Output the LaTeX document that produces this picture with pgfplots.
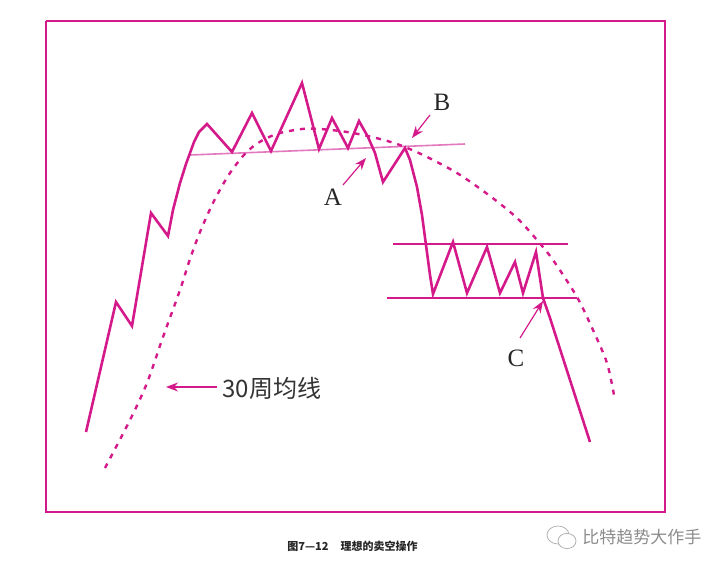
\documentclass[border=0pt]{standalone}
\usepackage{pgfplots}
\pgfplotsset{compat=1.18}
\usepackage{fontspec}
\setmainfont{Liberation Serif}
\newfontfamily\cjk{Noto Sans CJK SC}
\usetikzlibrary{arrows.meta}
\definecolor{mag}{RGB}{212,26,138}
\definecolor{lmag}{RGB}{226,120,190}
\begin{document}
\begin{tikzpicture}
\begin{axis}[
  scale only axis, width=359.5pt, height=283pt,
  xmin=0, xmax=719, ymin=0, ymax=566, y dir=reverse,
  axis lines=none, clip=false,
]
\path (axis cs:0,0) rectangle (axis cs:719,566);
% frame
\addplot[mag, line width=1.2pt] coordinates {(46,21)(665,21)(665,512)(46,512)(46,21)};
% neckline top (light)
\addplot[lmag, line width=0.8pt] coordinates {(190,155)(465,144)};
% channel lines
\addplot[mag, line width=1pt] coordinates {(393,244)(568,244)};
\addplot[mag, line width=1pt] coordinates {(387,298)(577,298)};
% 30-week moving average
\addplot[mag, line width=1.2pt, dash pattern=on 2.5pt off 3pt, smooth, tension=0.5] coordinates {
(105,468)(130,420)(147,383)(163,337)(180,290)(190,259)(200,232)(213,203)(228,176)(243,156)(255,145)(267,138)(280,133)(302,129)(320,129)(347,132)(372,137)(397,144)(423,155)(457,173)(490,196)(517,218)(537,240)(553,260)(577,297)(593,330)(607,363)(614,395)};
% price
\addplot[mag, line width=1.3pt, line join=miter] coordinates {
(86,432)(116,302)(132,326)(151,213)(168,236)(173,210)(180,183)(186,164)(190,153)(194,142)(199,132)(207,124)(232,152)(252,113)(271,151)(302,83)(319,149)(332,118)(348,148)(359,121)(368,137)(375,153)(383,182)(405,148)(410,160)(417,187)(422,215)(426,245)(430,275)(433,294)(453,242)(467,293)(487,247)(500,293)(515,262)(523,293)(536,252)(543,298)(550,318)(590,442)};
% arrows and labels
\draw[mag, line width=0.6pt, -{Stealth[length=6pt,width=4.5pt]}] (axis cs:343,185) -- (axis cs:366,158);
\node[font=\fontsize{12.5}{13}\selectfont, text=black!85] at (axis cs:333,197) {A};
\draw[mag, line width=0.6pt, -{Stealth[length=6pt,width=4.5pt]}] (axis cs:430,115) -- (axis cs:412,138);
\node[font=\fontsize{12.5}{13}\selectfont, text=black!85] at (axis cs:442,102) {B};
\draw[mag, line width=0.6pt, -{Stealth[length=6pt,width=4.5pt]}] (axis cs:520,338) -- (axis cs:543,301);
\node[font=\fontsize{12.5}{13}\selectfont, text=black!85] at (axis cs:516,358) {C};
\draw[mag, line width=0.6pt, -{Stealth[length=6pt,width=4.5pt]}] (axis cs:217,387) -- (axis cs:166,387);
\node[anchor=west, inner sep=0pt, font=\cjk\fontsize{12}{13}\selectfont, text=black!80] at (axis cs:222,388) {30周均线};
% caption
\node[anchor=west, inner sep=0pt, font=\cjk\bfseries\fontsize{5.5}{6}\selectfont, text=black!85] at (axis cs:287,546) {图7—12\hspace{6pt}理想的卖空操作};
% watermark
\draw[black!30, line width=0.4pt] (axis cs:558,535) ellipse [x radius=5.5pt, y radius=4.5pt];
\draw[black!30, line width=0.4pt, fill=white] (axis cs:567,541) ellipse [x radius=4.5pt, y radius=3.8pt];
\node[anchor=west, inner sep=0pt, font=\cjk\fontsize{8.5}{9}\selectfont, text=black!45] at (axis cs:582,537) {比特趋势大作手};
\end{axis}
\end{tikzpicture}
\end{document}
